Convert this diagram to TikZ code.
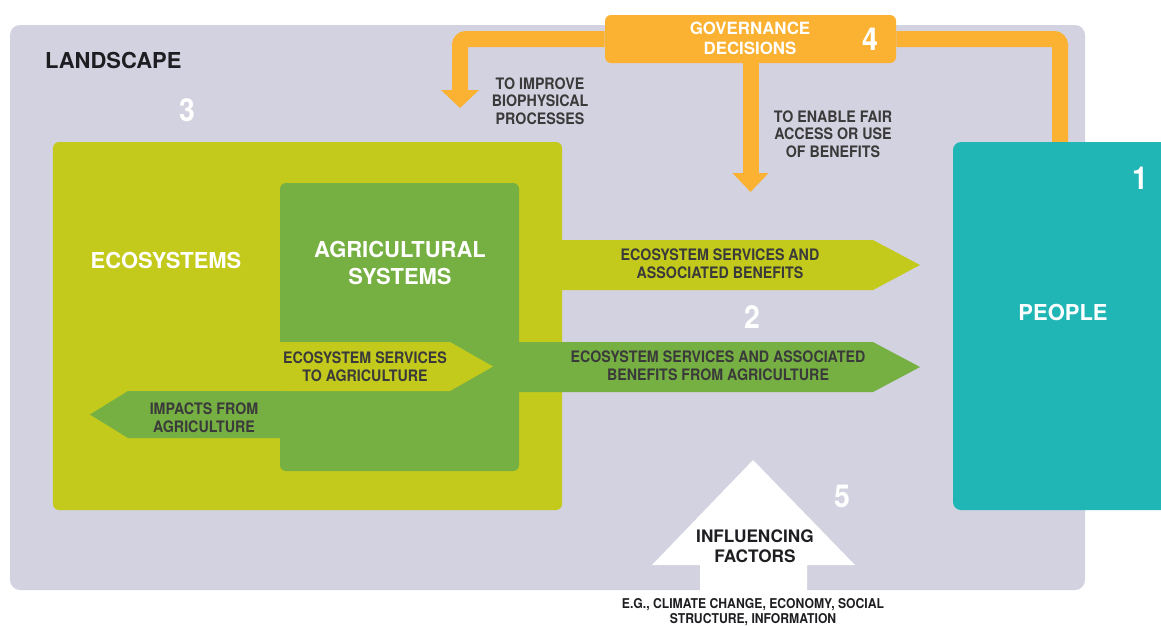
\documentclass[tikz,border=0pt]{standalone}
\usepackage{fontspec}
\setmainfont{TeX Gyre Heros}
\newfontfamily\narrowfont[FakeStretch=0.9]{TeX Gyre Heros}
\usetikzlibrary{arrows.meta}
\definecolor{landgray}{HTML}{D3D2E0}
\definecolor{ecoyellow}{HTML}{C3CA1B}
\definecolor{agrigreen}{HTML}{76B043}
\definecolor{peopleteal}{HTML}{20B6B5}
\definecolor{govorange}{HTML}{FBB131}
\definecolor{textdark}{HTML}{3A3A3A}
\definecolor{landdark}{HTML}{1E1E22}

\begin{document}
\begin{tikzpicture}[x=0.2mm, y=-0.2mm,
	area/.style={inner sep=0pt, rounded corners=1.2mm},
	biglabel/.style={font=\fontsize{12.5}{15.5}\selectfont\bfseries, text=white, align=center},
	govlabel/.style={font=\fontsize{9.6}{11.4}\selectfont\bfseries, text=white, align=center},
	arrowlabel/.style={font=\narrowfont\fontsize{9}{10}\selectfont\bfseries, text=textdark, align=center},
	numlabel/.style={font=\narrowfont\fontsize{18}{18}\selectfont\bfseries, text=white},
	govline/.style={draw=govorange, line width=3.2mm, rounded corners=1.2mm}]
	\useasboundingbox (0,0) rectangle (1161,625);
	\clip (0,0) rectangle (1161,625);
	\fill[landgray, rounded corners=2mm] (10,25) rectangle (1085,590);
	\node[area, fill=govorange, minimum width=58.2mm, minimum height=9.6mm] (gov) at (750.5,39) {};
	\coordinate (bioend) at (460,108);
	\coordinate (fairend) at (750.5,192);
	\coordinate (peopletop) at (1060,150);
	\draw[govline, -{Triangle[width=7.4mm,length=3.6mm]}] (gov.west) -| (bioend);
	\draw[govline, -{Triangle[width=7mm,length=3.8mm]}] (gov.south) -- (fairend);
	\draw[govline] (gov.east) -| (peopletop);
	\node[area, fill=ecoyellow, minimum width=101.8mm, minimum height=73.6mm] (eco) at (307.5,326) {};
	\node[area, fill=agrigreen, minimum width=47.8mm, minimum height=57.6mm] (agri) at (399.5,327) {};
	\node[area, fill=peopleteal, rounded corners=1.6mm, minimum width=44.4mm, minimum height=73.6mm] (people) at (1064,326) {};
	\fill[ecoyellow] (555,240) -- (873,240) -- (920,265) -- (873,290) -- (555,290) -- cycle;
	\fill[agrigreen] (515,342) -- (873,342) -- (920,367) -- (873,392) -- (515,392) -- cycle;
	\fill[ecoyellow] (275,342) -- (450,342) -- (493,366.5) -- (450,391) -- (275,391) -- cycle;
	\fill[agrigreen] (285,391) -- (128,391) -- (90,414.5) -- (128,438) -- (285,438) -- cycle;
	\fill[white] (700,600) -- (700,565) -- (652,565) -- (753,460) -- (855,565) -- (807,565) -- (807,600) -- cycle;
	\node[anchor=west, font=\fontsize{12.5}{15}\selectfont\bfseries, text=landdark] (landlabel) at (39,60) {LANDSCAPE};
	\node[numlabel] (num3) at (187,110) {3};
	\node[numlabel] (num1) at (1140,178) {1};
	\node[numlabel] (num2) at (752,317) {2};
	\node[numlabel] (num5) at (842,496) {5};
	\node[numlabel] (num4) at (870,39) {4};
	\node[govlabel] (govtext) at (750,38) {GOVERNANCE\\DECISIONS};
	\node[biglabel] (ecotext) at (166,260) {ECOSYSTEMS};
	\node[biglabel] (agritext) at (400,263) {AGRICULTURAL\\SYSTEMS};
	\node[biglabel] (peopletext) at (1063,312) {PEOPLE};
	\node[arrowlabel] (biotext) at (540,101) {TO IMPROVE\\BIOPHYSICAL\\PROCESSES};
	\node[arrowlabel] (fairtext) at (833,134) {TO ENABLE FAIR\\ACCESS OR USE\\OF BENEFITS};
	\node[arrowlabel] (esbtext) at (720,264) {ECOSYSTEM SERVICES AND\\ASSOCIATED BENEFITS};
	\node[arrowlabel] (esatext) at (718,366) {ECOSYSTEM SERVICES AND ASSOCIATED\\BENEFITS FROM AGRICULTURE};
	\node[arrowlabel] (estext) at (365,367) {ECOSYSTEM SERVICES\\TO AGRICULTURE};
	\node[arrowlabel] (imptext) at (204,418) {IMPACTS FROM\\AGRICULTURE};
	\node[font=\fontsize{9.8}{11.4}\selectfont\bfseries, text=landdark, align=center] (inftext) at (755,546) {INFLUENCING\\FACTORS};
	\node[font=\narrowfont\fontsize{7.7}{8.5}\selectfont\bfseries, text=landdark, align=center] (egtext) at (753,612) {E.G., CLIMATE CHANGE, ECONOMY, SOCIAL\\STRUCTURE, INFORMATION};
\end{tikzpicture}
\end{document}
